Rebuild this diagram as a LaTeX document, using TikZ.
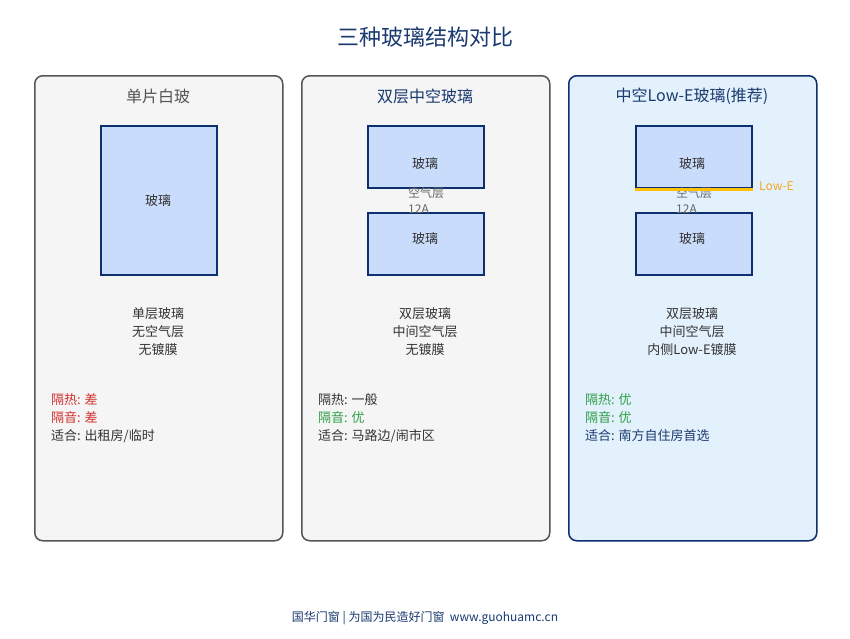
\documentclass[tikz,border=0pt]{standalone}
\usepackage{fontspec}
\setmainfont{Noto Sans CJK SC}
\definecolor{navy}{HTML}{1A3A70}
\definecolor{boxborder}{HTML}{0D2F6E}
\definecolor{glassfill}{HTML}{C9DCFB}
\definecolor{panelgray}{HTML}{F5F5F5}
\definecolor{panelblue}{HTML}{E3F1FC}
\definecolor{bordergray}{HTML}{555555}
\definecolor{txt}{HTML}{333333}
\definecolor{airgray}{HTML}{666666}
\definecolor{badred}{HTML}{D32F2F}
\definecolor{goodgreen}{HTML}{2E9E48}
\definecolor{gold}{HTML}{FFC107}
\definecolor{lowetxt}{HTML}{F5A623}
\tikzset{
  panelbox/.style={draw=bordergray, fill=panelgray, line width=1.5pt, rounded corners=8pt, anchor=north west, minimum width=248pt, minimum height=465pt, inner sep=0pt},
  panelrec/.style={panelbox, draw=boxborder, fill=panelblue},
  glass/.style={draw=boxborder, fill=glassfill, line width=1.5pt, anchor=north west, minimum width=116pt, inner sep=0pt},
  glabel/.style={text=txt, inner sep=0pt, font=\fontsize{13}{16}\selectfont},
  ptitle/.style={font=\fontsize{16}{20}\selectfont},
  desc/.style={align=center, text=txt, font=\fontsize{13}{18}\selectfont},
  prop/.style={anchor=west, inner sep=0pt, font=\fontsize{13}{16}\selectfont},
  airtxt/.style={anchor=west, align=left, inner sep=0pt, text=airgray, font=\fontsize{12}{16}\selectfont},
}
\begin{document}
\begin{tikzpicture}[x=1pt,y=-1pt]
\useasboundingbox (0,0) rectangle (850,638);
\fill[white] (0,0) rectangle (850,638);

\node[text=navy, font=\fontsize{22}{26}\selectfont] (title) at (425,37) {三种玻璃结构对比};

% panels
\node[panelbox] (p1) at (34,75) {};
\node[panelbox] (p2) at (301,75) {};
\node[panelrec] (p3) at (568,75) {};

\node[ptitle, text=bordergray] (t1) at (158,96) {单片白玻};
\node[ptitle, text=navy] (t2) at (425,96) {双层中空玻璃};
\node[ptitle, text=navy] (t3) at (692,96) {中空Low-E玻璃(推荐)};

% panel 1
\node[glass, minimum height=149pt] (g1) at (100,125) {};
\node[glabel] (g1l) at (158,200.5) {玻璃};
\node[desc] (d1) at (158,332) {单层玻璃\\无空气层\\无镀膜};
\node[prop, text=badred] (a1) at (51,400) {隔热: 差};
\node[prop, text=badred] (b1) at (51,418) {隔音: 差};
\node[prop, text=txt] (c1) at (51,436) {适合: 出租房/临时};

% panel 2
\node[glass, minimum height=62pt] (g2a) at (367,125) {};
\node[glass, minimum height=62pt] (g2b) at (367,212) {};
\node[glabel] (g2al) at (425,163.5) {玻璃};
\node[glabel] (g2bl) at (425,238.5) {玻璃};
\node[airtxt] (air2) at (408,200) {空气层\\12A};
\node[desc] (d2) at (425,332) {双层玻璃\\中间空气层\\无镀膜};
\node[prop, text=txt] (a2) at (318,400) {隔热: 一般};
\node[prop, text=goodgreen] (b2) at (318,418) {隔音: 优};
\node[prop, text=txt] (c2) at (318,436) {适合: 马路边/闹市区};

% panel 3
\node[glass, minimum height=62pt] (g3a) at (635,125) {};
\node[glass, minimum height=62pt] (g3b) at (635,212) {};
\node[glabel] (g3al) at (692,163.5) {玻璃};
\node[glabel] (g3bl) at (692,238.5) {玻璃};
\node[airtxt] (air3) at (676,200) {空气层\\12A};
\draw[gold, line width=2.5pt] ([yshift=-1pt]g3a.south west) -- ([yshift=-1pt]g3a.south east);
\node[anchor=west, inner sep=0pt, text=lowetxt, font=\fontsize{12}{14}\selectfont] (lowe) at (759,186) {Low-E};
\node[desc] (d3) at (692,332) {双层玻璃\\中间空气层\\内侧Low-E镀膜};
\node[prop, text=goodgreen] (a3) at (585,400) {隔热: 优};
\node[prop, text=goodgreen] (b3) at (585,418) {隔音: 优};
\node[prop, text=navy] (c3) at (585,436) {适合: 南方自住房首选};

% footer
\node[text=navy, font=\fontsize{12}{14}\selectfont] (foot) at (425,618) {国华门窗 | 为国为民造好门窗\ \ www.guohuamc.cn};
\end{tikzpicture}
\end{document}
